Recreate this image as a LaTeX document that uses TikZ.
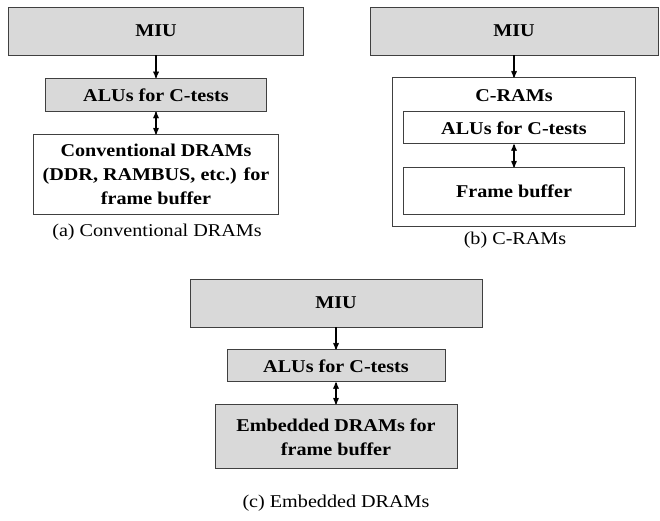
\documentclass[tikz,border=0pt]{standalone}
\usepackage{fontspec}
\setmainfont[FakeStretch=1.12]{Liberation Serif}
\usetikzlibrary{positioning}
\usetikzlibrary{arrows,chains}
\newcommand{\diafont}{\fontsize{18}{24}\selectfont}
\tikzset{
	>=stealth',
	unitbox/.style={
		rectangle,
		draw=black!75, line width=0.9pt,
		font=\diafont\bfseries,
		align=center,
		inner sep=2pt},
	miubox/.style={unitbox, fill=black!15, minimum width=292pt, minimum height=48pt},
	alubox/.style={unitbox, minimum width=221pt, minimum height=33pt},
	membox/.style={unitbox, minimum width=245pt},
	link/.style={draw, line width=1.3pt, ->},
	twoway/.style={draw, line width=1.3pt, <->},
	caption/.style={font=\diafont},
}
\begin{document}
\begin{tikzpicture}[x=1pt, y=1pt]
	\useasboundingbox (0,0) rectangle (660,-520);
	% (a) conventional DRAMs
	\begin{scope}[start chain=conv going below, node distance=22.5pt]
		\node[miubox, minimum width=295pt, on chain] (miuA) at (156,-31) {MIU};
		\node[alubox, fill=black!15, on chain, join=by link] (aluA) {ALUs for C-tests};
		\node[membox, minimum height=80pt, on chain, join=by twoway] (dramA) {Conventional DRAMs\\(DDR, RAMBUS, etc.) for\\frame buffer};
	\end{scope}
	\node[caption] (capA) at (157,-232) {(a) Conventional DRAMs};
	
	% (b) C-RAMs
	\node[miubox, minimum width=288pt] (miuB) at (514,-31) {MIU};
	\node[unitbox, minimum width=243pt, minimum height=149pt, below=22pt of miuB] (cram) {};
	\node[font=\diafont\bfseries, inner sep=0pt, below=12pt of cram.north] (cramlbl) {C-RAMs};
	\node[alubox, minimum height=32pt, below=34pt of cram.north] (aluB) {ALUs for C-tests};
	\node[alubox, minimum height=47pt, below=23pt of aluB] (fbB) {Frame buffer};
	\draw[link] (miuB) -- (cram);
	\draw[twoway] (aluB) -- (fbB);
	\node[caption] (capB) at (515,-240) {(b) C-RAMs};
	
	% (c) embedded DRAMs
	\begin{scope}[start chain=edram going below, node distance=22pt]
		\node[miubox, on chain] (miuC) at (336,-303) {MIU};
		\node[alubox, fill=black!15, minimum width=218pt, minimum height=32pt, on chain, join=by link] (aluC) {ALUs for C-tests};
		\node[membox, fill=black!15, minimum width=242pt, minimum height=64pt, on chain, join=by twoway] (edramC) {Embedded DRAMs for\\frame buffer};
	\end{scope}
	\node[caption] (capC) at (336,-503) {(c) Embedded DRAMs};
\end{tikzpicture}
\end{document}
